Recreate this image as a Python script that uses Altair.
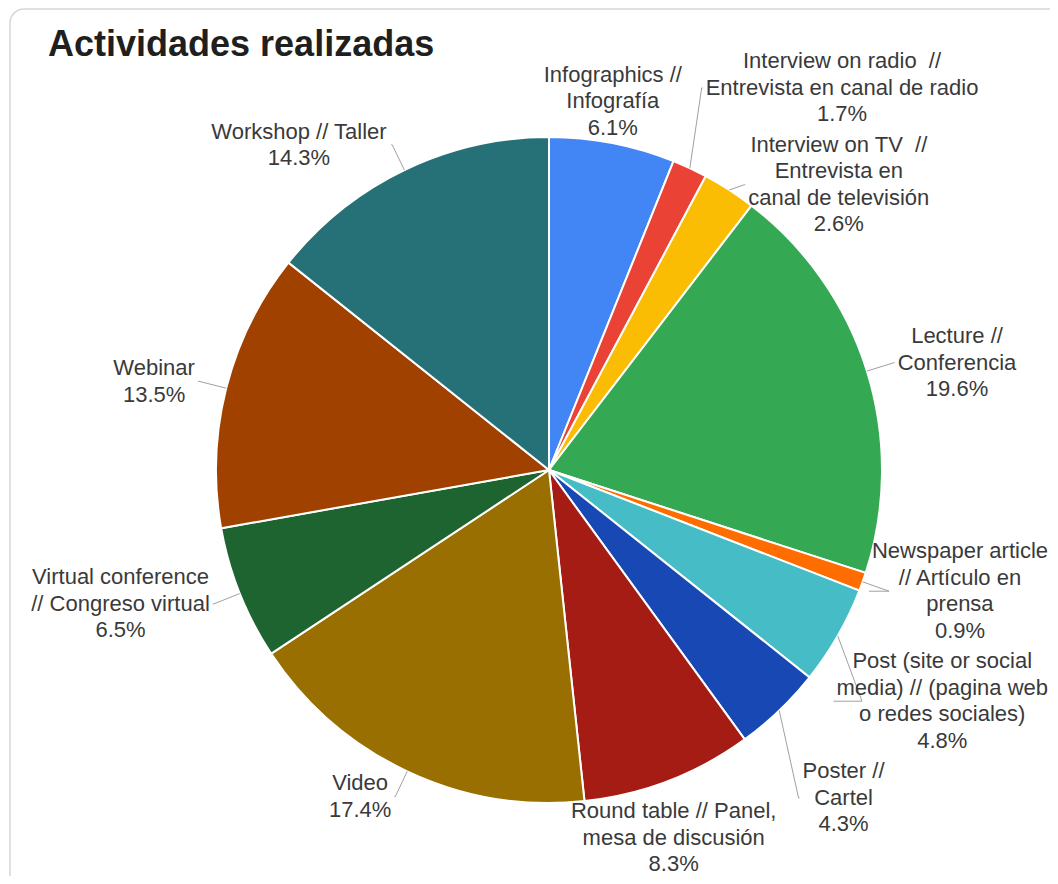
import math
import altair as alt

# ---------------- data ----------------
categories = [
    "Infographics // Infografía",
    "Interview on radio // Entrevista en canal de radio",
    "Interview on TV // Entrevista en canal de televisión",
    "Lecture // Conferencia",
    "Newspaper article // Artículo en prensa",
    "Post (site or social media) // (pagina web o redes sociales)",
    "Poster // Cartel",
    "Round table // Panel, mesa de discusión",
    "Video",
    "Virtual conference // Congreso virtual",
    "Webinar",
    "Workshop // Taller",
]
values = [6.1, 1.7, 2.6, 19.6, 0.9, 4.8, 4.3, 8.3, 17.4, 6.5, 13.5, 14.3]
label_lines = [
    ["Infographics //", "Infografía"],
    ["Interview on radio\u00a0 //", "Entrevista en canal de radio"],
    ["Interview on TV\u00a0 //", "Entrevista en", "canal de televisión"],
    ["Lecture //", "Conferencia"],
    ["Newspaper article", "// Artículo en", "prensa"],
    ["Post (site or social", "media) // (pagina web", "o redes sociales)"],
    ["Poster //", "Cartel"],
    ["Round table // Panel,", "mesa de discusión"],
    ["Video"],
    ["Virtual conference", "// Congreso virtual"],
    ["Webinar"],
    ["Workshop // Taller"],
]
colors = [
    "#4285F4", "#EA4335", "#FBBC04", "#34A853", "#FF6D01", "#46BDC6",
    "#1748B4", "#A51C14", "#986F00", "#1E6430", "#A04100", "#267078",
]
title_text = "Actividades realizadas"

# ---------------- layout constants ----------------
W, H = 1042, 868
CX, CY = 541, 462
R = 333
FS = 22
LH = 26.5
FONT = "Liberation Sans"

_w = {" ": 278, "\u00a0": 278, "!": 278, "(": 333, ")": 333, ",": 278, ".": 278,
      "/": 278, "%": 889}
for c in "0123456789":
    _w[c] = 556
for c, v in zip("ABCDEFGHIJKLMNOPQRSTUVWXYZ",
                [667, 667, 722, 722, 667, 611, 778, 722, 278, 500, 667, 556, 833,
                 722, 778, 667, 778, 722, 667, 611, 722, 667, 944, 667, 667, 611]):
    _w[c] = v
for c, v in zip("abcdefghijklmnopqrstuvwxyz",
                [556, 556, 500, 556, 556, 278, 556, 556, 222, 222, 500, 222, 833,
                 556, 556, 556, 556, 333, 500, 278, 556, 500, 722, 500, 500, 500]):
    _w[c] = v
_w.update({"í": 278, "ó": 556, "á": 556, "é": 556})


def text_w(s):
    return sum(_w.get(ch, 556) for ch in s) * FS / 1000.0


total = sum(values)
labels = []
cum = 0.0
for i, (cat, v, lines) in enumerate(zip(categories, values, label_lines)):
    mid = (cum + v / 2.0) / total * 2 * math.pi
    cum += v
    ux, uy = math.sin(mid), -math.cos(mid)
    deg = math.degrees(mid)
    full = lines + [f"{v}%"]
    w = max(text_w(s) for s in full)
    h = len(full) * LH
    ex, ey = CX + R * ux, CY + R * uy
    if deg < 15 or deg > 345:
        zone = "top"
        px, py = CX + (R + 2) * ux, CY + (R + 2) * uy
        cx, cy = px, py - h / 2
    elif abs(deg - 180) < 25:
        zone = "bottom"
        px, py = CX + (R + 14) * ux, CY + (R + 14) * uy
        cx, cy = px, py + 4 + h / 2
    elif ux > 0:
        zone = "right"
        px, py = CX + (R + 28) * ux, CY + (R + 28) * uy
        cx, cy = px + 4 + w / 2, py
    else:
        zone = "left"
        px, py = CX + (R + 28) * ux, CY + (R + 28) * uy
        cx, cy = px - 4 - w / 2, py
    # keep the text block inside the drawing
    cx = min(max(cx, w / 2 + 4), W - w / 2 - 2)
    cy = min(cy, H - h / 2 + 2)
    labels.append(dict(i=i, cat=cat, zone=zone, ex=ex, ey=ey, px=px, py=py,
                       cx=cx, cy=cy, w=w, h=h, n=len(full), text="\n".join(full)))

# de-overlap side labels
GAP = 4
for side in ("right", "left"):
    grp = [l for l in labels if l["zone"] == side]
    upper = sorted([l for l in grp if l["py"] < CY], key=lambda l: -l["cy"])
    lower = sorted([l for l in grp if l["py"] >= CY], key=lambda l: l["cy"])
    for a, b in zip(upper, upper[1:]):
        overlap = (b["cy"] + b["h"] / 2) - (a["cy"] - a["h"] / 2 - GAP)
        if overlap > 0:
            a["cy"] += 0.25 * overlap
            b["cy"] -= 0.75 * overlap
    for a, b in zip(lower, lower[1:]):
        limit = a["cy"] + a["h"] / 2 + GAP
        if b["cy"] - b["h"] / 2 < limit:
            b["cy"] = limit + b["h"] / 2

leader_pts = []
for l in labels:
    if l["zone"] in ("right", "left"):
        s = 1 if l["zone"] == "right" else -1
        ax = l["cx"] - s * (l["w"] / 2 + 3)
        pts = [(l["ex"], l["ey"]), (l["px"], l["cy"]), (ax, l["cy"])]
        for k, (x, y) in enumerate(pts):
            leader_pts.append(dict(cat=l["cat"], seq=k, x=x, y=y))

slice_rows = [dict(idx=i, category=c, value=v) for i, (c, v) in enumerate(zip(categories, values))]
# Vega draws the first line of a multi-line text at y: shift so the block is centred
label_rows = [dict(cat=l["cat"], cx=l["cx"], ty=l["cy"] - (l["n"] - 1) * LH / 2, text=l["text"])
              for l in labels]

# ---------------- chart ----------------
frame = alt.Chart(alt.Data(values=[{"a": 1}])).mark_rect(
    fillOpacity=0, stroke="#d6d6d6", strokeWidth=1.5, cornerRadius=14
).encode(x=alt.value(2), x2=alt.value(1300), y=alt.value(1), y2=alt.value(1100))

pie = alt.Chart(alt.Data(values=slice_rows)).mark_arc(
    outerRadius=R, stroke="white", strokeWidth=2
).encode(
    theta=alt.Theta("value:Q", stack=True),
    order=alt.Order("idx:Q"),
    color=alt.Color("category:N", scale=alt.Scale(domain=categories, range=colors), legend=None),
    x=alt.value(CX),
    y=alt.value(CY),
)

leaders = alt.Chart(alt.Data(values=leader_pts)).mark_line(
    color="#a0a0a0", strokeWidth=1
).encode(
    x=alt.X("x:Q", scale=None, axis=None),
    y=alt.Y("y:Q", scale=None, axis=None),
    detail="cat:N",
    order="seq:Q",
)

texts = alt.Chart(alt.Data(values=label_rows)).transform_calculate(
    lines="split(datum.text, '\\n')"
).mark_text(
    align="center", baseline="middle", fontSize=FS, lineHeight=LH, font=FONT, color="#3a3a3a"
).encode(
    x=alt.X("cx:Q", scale=None, axis=None),
    y=alt.Y("ty:Q", scale=None, axis=None),
    text="lines:N",
)

title = alt.Chart(alt.Data(values=[{"t": title_text}])).mark_text(
    align="left", baseline="alphabetic", fontSize=36, fontWeight="bold", font=FONT, color="#1f1f1f"
).encode(x=alt.value(40), y=alt.value(48), text="t:N")

chart = alt.layer(frame, pie, leaders, texts, title).properties(
    width=W, height=H, padding=0, autosize="none"
).configure_view(stroke=None)

chart.save("out.html", embed_options={"renderer": "svg", "actions": False})
